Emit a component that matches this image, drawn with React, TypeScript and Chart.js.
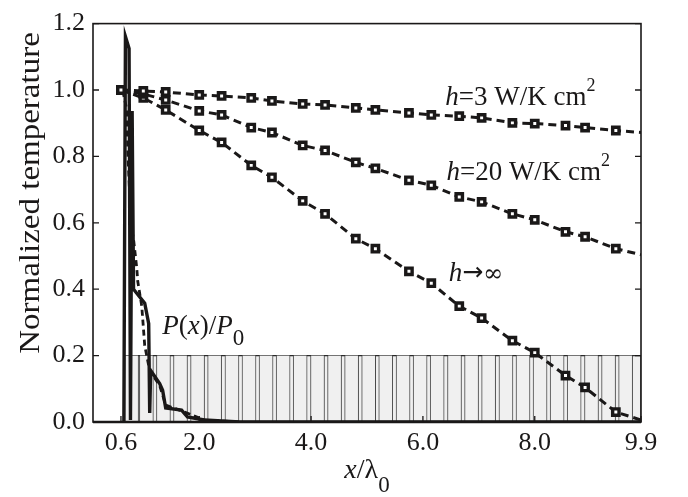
import React, { useEffect, useRef } from 'react';
import { Chart, registerables } from 'chart.js';

Chart.register(...registerables);

// ---- data ----
const markerX = [0.6, 1.0, 1.4, 2.0, 2.4, 2.93, 3.3, 3.85, 4.25, 4.8, 5.15, 5.75, 6.15, 6.65, 7.05, 7.6, 8.0, 8.55, 8.9, 9.45, 9.9];
const tempH3 = [1.0, 0.997, 0.994, 0.985, 0.982, 0.976, 0.967, 0.958, 0.955, 0.946, 0.94, 0.931, 0.925, 0.921, 0.916, 0.901, 0.899, 0.893, 0.887, 0.878, 0.872];
const tempH20 = [1.0, 0.988, 0.97, 0.937, 0.925, 0.887, 0.872, 0.833, 0.818, 0.782, 0.764, 0.728, 0.713, 0.678, 0.663, 0.627, 0.609, 0.573, 0.558, 0.522, 0.504];
const tempHInf = [1.0, 0.976, 0.94, 0.878, 0.842, 0.773, 0.737, 0.666, 0.627, 0.552, 0.522, 0.454, 0.418, 0.349, 0.313, 0.245, 0.209, 0.14, 0.104, 0.03, 0.006];

const powerX = [0.652, 0.68, 0.745, 0.77, 0.8, 0.825, 1.025, 1.096, 1.114, 1.132, 1.292, 1.345, 1.4, 1.684, 1.79, 2.09, 2.72, 9.9];
const powerY = [0, 1.161, 1.125, 0.006, 0.937, 0.4, 0.358, 0.296, 0.027, 0.155, 0.116, 0.096, 0.042, 0.036, 0.015, 0.006, 0, 0];

const power2X = [0.634, 0.705, 0.723, 0.776, 0.83, 0.883, 0.9, 0.972, 1.025, 1.114, 1.292, 1.4, 1.737, 2.09, 2.72];
const power2Y = [0.997, 0.94, 0.812, 0.603, 0.543, 0.463, 0.424, 0.349, 0.23, 0.155, 0.11, 0.051, 0.03, 0.006, 0];

const gratingX = [0.79, 1.055, 1.36, 1.665, 1.97, 2.275, 2.585, 2.89, 3.195, 3.5, 3.805, 4.115, 4.42, 4.725, 5.03, 5.335, 5.645, 5.95, 6.255, 6.565, 6.87, 7.175, 7.485, 7.79, 8.095, 8.4, 8.705, 9.015, 9.32, 9.625];
const gratingTop = 0.2;
const regionX = [0.67, 9.9];

const xTicks = [0.6, 2.0, 4.0, 6.0, 8.0, 9.9];
const yTicks = [0, 0.2, 0.4, 0.6, 0.8, 1.0, 1.2];

const annoH3 = { x: 6.4, y: 0.955 };
const annoH20 = { x: 6.42, y: 0.728 };
const annoHInf = { x: 6.46, y: 0.424 };
const annoP = { x: 1.34, y: 0.266 };

const FONT = '"Liberation Serif", "Times New Roman", serif';
const INK = '#1a1818';

type Part = { t: string; it?: boolean; sz?: number; dy?: number; fam?: string };

function setFont(ctx: CanvasRenderingContext2D, p: Part, base: number) {
  ctx.font = `${p.it ? 'italic ' : ''}${p.sz ?? base}px ${p.fam ?? FONT}`;
}

function measureParts(ctx: CanvasRenderingContext2D, parts: Part[], base = 27) {
  let w = 0;
  for (const p of parts) {
    setFont(ctx, p, base);
    w += ctx.measureText(p.t).width;
  }
  return w;
}

function drawParts(ctx: CanvasRenderingContext2D, parts: Part[], x: number, y: number, base = 27) {
  let cx = x;
  ctx.textBaseline = 'alphabetic';
  ctx.textAlign = 'left';
  for (const p of parts) {
    setFont(ctx, p, base);
    ctx.fillText(p.t, cx, y + (p.dy ?? 0));
    cx += ctx.measureText(p.t).width;
  }
}

const decorPlugin = {
  id: 'decor',
  afterDraw(chart: any) {
    const { ctx, chartArea, scales } = chart;
    const xs = scales.x;
    const ys = scales.y;
    ctx.save();
    // frame
    ctx.strokeStyle = INK;
    ctx.lineWidth = 1.6;
    ctx.strokeRect(chartArea.left, chartArea.top, chartArea.right - chartArea.left, chartArea.bottom - chartArea.top);
    ctx.lineWidth = 2.6;
    ctx.beginPath();
    ctx.moveTo(chartArea.left, chartArea.bottom);
    ctx.lineTo(chartArea.right, chartArea.bottom);
    ctx.stroke();
    // inward ticks
    ctx.lineWidth = 1.3;
    ctx.beginPath();
    for (const v of yTicks) {
      const py = ys.getPixelForValue(v);
      ctx.moveTo(chartArea.left, py);
      ctx.lineTo(chartArea.left + 6, py);
      ctx.moveTo(chartArea.right, py);
      ctx.lineTo(chartArea.right - 6, py);
    }
    for (const v of xTicks) {
      const px = xs.getPixelForValue(v);
      ctx.moveTo(px, chartArea.bottom);
      ctx.lineTo(px, chartArea.bottom - 6);
    }
    ctx.stroke();

    ctx.fillStyle = INK;
    const sup: Part = { t: '2', sz: 18, dy: -14 };
    drawParts(ctx, [{ t: 'h', it: true }, { t: '=3 W/K cm' }, sup], xs.getPixelForValue(annoH3.x), ys.getPixelForValue(annoH3.y));
    drawParts(ctx, [{ t: 'h', it: true }, { t: '=20 W/K cm' }, sup], xs.getPixelForValue(annoH20.x), ys.getPixelForValue(annoH20.y));
    drawParts(
      ctx,
      [{ t: 'h', it: true }, { t: '\u2192', fam: '"DejaVu Sans"', sz: 25, dy: -1 }, { t: '\u221E', fam: '"DejaVu Serif"', sz: 24 }],
      xs.getPixelForValue(annoHInf.x),
      ys.getPixelForValue(annoHInf.y)
    );
    drawParts(
      ctx,
      [{ t: 'P', it: true }, { t: '(' }, { t: 'x', it: true }, { t: ')/' }, { t: 'P', it: true }, { t: '0', sz: 23, dy: 11 }],
      xs.getPixelForValue(annoP.x),
      ys.getPixelForValue(annoP.y)
    );

    // x title
    const xt: Part[] = [{ t: 'x', it: true }, { t: '/\u03BB' }, { t: '0', sz: 23, dy: 14 }];
    const w = measureParts(ctx, xt, 28);
    const cx = (chartArea.left + chartArea.right) / 2;
    drawParts(ctx, xt, cx - w / 2, 478, 28);

    // y title
    ctx.translate(31, 193);
    ctx.rotate(-Math.PI / 2);
    ctx.scale(1.1, 1);
    ctx.font = `30px ${FONT}`;
    ctx.textAlign = 'center';
    ctx.textBaseline = 'middle';
    ctx.fillText('Normalized temperature', 0, 0);
    ctx.restore();
  },
};

const pts = (xsArr: number[], ysArr: number[]) => xsArr.map((x, i) => ({ x, y: ysArr[i] }));

export default function App() {
  const ref = useRef<HTMLCanvasElement | null>(null);

  useEffect(() => {
    if (!ref.current) return;
    const markerRadius = markerX.map((_, i) => (i === markerX.length - 1 ? 0 : 4.5));
    const tempStyle = {
      borderColor: INK,
      borderWidth: 3,
      borderDash: [8, 5],
      pointStyle: 'rect' as const,
      pointRadius: markerRadius,
      pointBorderWidth: 3.4,
      pointBorderColor: INK,
      pointBackgroundColor: '#ffffff',
      fill: false,
      tension: 0,
      order: 1,
    };
    const chart = new Chart(ref.current, {
      type: 'line',
      data: {
        datasets: [
          { ...tempStyle, label: 'h=3', data: pts(markerX, tempH3) },
          { ...tempStyle, label: 'h=20', data: pts(markerX, tempH20) },
          { ...tempStyle, label: 'hInf', data: pts(markerX, tempHInf) },
          {
            label: 'P',
            data: pts(powerX, powerY),
            borderColor: INK,
            borderWidth: 3.4,
            pointRadius: 0,
            tension: 0,
            fill: false,
            order: 2,
          },
          {
            label: 'P2',
            data: pts(power2X, power2Y),
            borderColor: INK,
            borderWidth: 2.8,
            borderDash: [6, 4],
            pointRadius: 0,
            tension: 0,
            fill: false,
            order: 3,
          },
          {
            type: 'bar',
            label: 'grating',
            data: gratingX.map((x) => ({ x, y: gratingTop })),
            barThickness: 14,
            backgroundColor: '#f0f0f0',
            borderColor: '#4a4a4a',
            borderWidth: { left: 1, right: 1, top: 0, bottom: 0 },
            borderSkipped: 'bottom',
            order: 10,
          } as any,
          {
            label: 'region',
            data: [
              { x: regionX[0], y: 0 },
              { x: regionX[0], y: gratingTop },
              { x: regionX[1], y: gratingTop },
              { x: regionX[1], y: 0 },
            ],
            borderColor: '#2a2a2a',
            borderWidth: 1.2,
            backgroundColor: '#efefef',
            fill: 'origin',
            pointRadius: 0,
            tension: 0,
            order: 20,
          },
        ],
      },
      options: {
        responsive: false,
        animation: false,
        devicePixelRatio: 1,
        layout: { padding: { left: 0, right: 47, top: 20, bottom: 0 } },
        plugins: { legend: { display: false }, tooltip: { enabled: false } },
        scales: {
          x: {
            type: 'linear',
            min: 0.1,
            max: 9.9,
            offset: false,
            grid: { display: false, drawTicks: false },
            border: { display: false },
            afterBuildTicks: (s: any) => {
              s.ticks = xTicks.map((v) => ({ value: v }));
            },
            afterFit: (s: any) => {
              s.height = 75;
            },
            ticks: {
              autoSkip: false,
              maxRotation: 0,
              padding: 6,
              color: INK,
              font: { family: FONT, size: 26 },
              callback: (v: any) => Number(v).toFixed(1),
            },
          },
          y: {
            type: 'linear',
            min: 0,
            max: 1.2,
            grid: { display: false, drawTicks: false },
            border: { display: false },
            afterBuildTicks: (s: any) => {
              s.ticks = yTicks.map((v) => ({ value: v }));
            },
            afterFit: (s: any) => {
              s.width = 93;
            },
            ticks: {
              padding: 8,
              color: INK,
              font: { family: FONT, size: 26 },
              callback: (v: any) => Number(v).toFixed(1),
            },
          },
        },
      },
      plugins: [decorPlugin],
    });
    return () => chart.destroy();
  }, []);

  return (
    <div style={{ position: 'fixed', left: 0, top: 0, width: 688, height: 497, background: '#ffffff' }}>
      <canvas ref={ref} width={688} height={497} />
    </div>
  );
}
